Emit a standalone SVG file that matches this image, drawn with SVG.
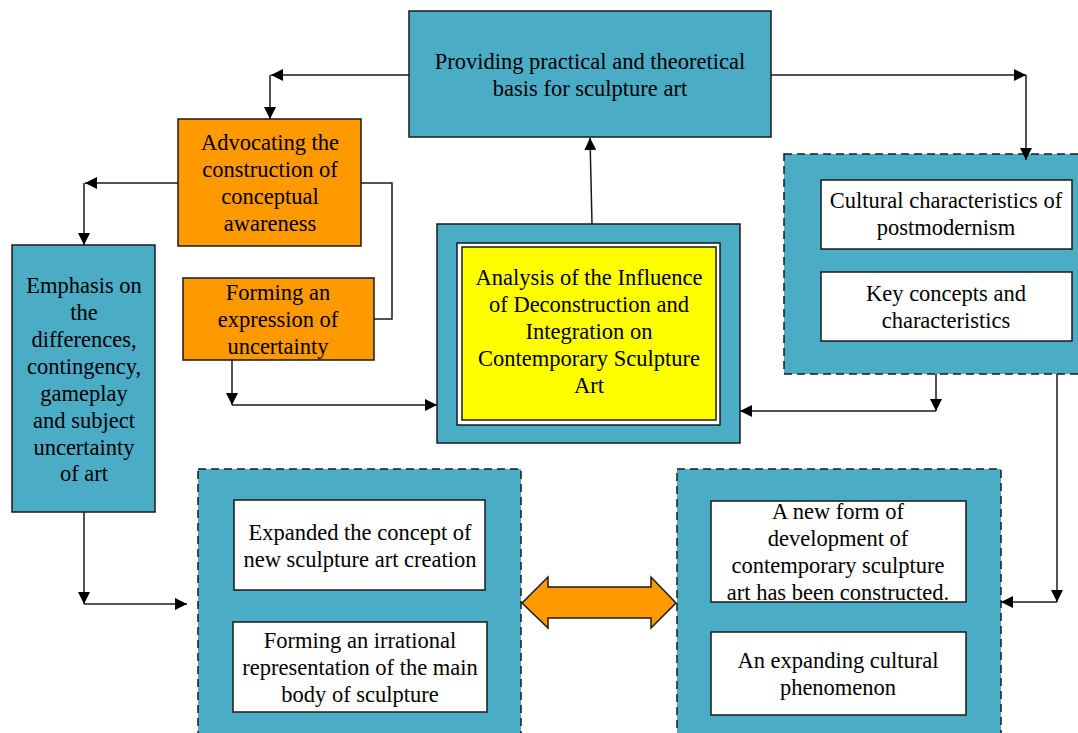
<svg xmlns="http://www.w3.org/2000/svg" width="1078" height="733" viewBox="0 0 1078 733">
<defs>
<style>
text{font-family:"Liberation Serif","Times New Roman",serif;font-size:22.5px;fill:#000;text-anchor:middle}
.teal{fill:#4BACC6;stroke:#1a1a1a;stroke-width:1.5}
.orange{fill:#FF9900;stroke:#1a1a1a;stroke-width:1.5}
.white{fill:#fff;stroke:#1a1a1a;stroke-width:1.5}
.dash{fill:#4BACC6;stroke:#1a1a1a;stroke-width:1.5;stroke-dasharray:8 5}
.conn{fill:none;stroke:#1a1a1a;stroke-width:1.5}
.arr{marker-end:url(#ah)}
</style>
<marker id="ah" viewBox="0 0 12 12" refX="12" refY="6" markerWidth="12" markerHeight="12" markerUnits="userSpaceOnUse" orient="auto">
<path d="M0,0 L12,6 L0,12 Z" fill="#000"/>
</marker>
</defs>

<g id="node-top">
<rect class="teal" x="409" y="11" width="362" height="126"/>
<text x="590" y="69">Providing practical and theoretical</text>
<text x="590" y="96">basis for sculpture art</text>
</g>

<g id="node-advocating">
<rect class="orange" x="178" y="119" width="183" height="127"/>
<text x="270" y="150">Advocating the</text>
<text x="270" y="177">construction of</text>
<text x="270" y="204">conceptual</text>
<text x="270" y="231">awareness</text>
</g>

<g id="node-emphasis">
<rect class="teal" x="12" y="245" width="143" height="267"/>
<text x="84" y="293">Emphasis on</text>
<text x="84" y="320">the</text>
<text x="84" y="347">differences,</text>
<text x="84" y="374">contingency,</text>
<text x="84" y="401">gameplay</text>
<text x="84" y="428">and subject</text>
<text x="84" y="455">uncertainty</text>
<text x="84" y="481">of art</text>
</g>

<g id="node-forming-uncertainty">
<rect class="orange" x="183" y="278" width="191" height="82"/>
<text x="278" y="300">Forming an</text>
<text x="278" y="327">expression of</text>
<text x="278" y="354">uncertainty</text>
</g>

<g id="node-center">
<rect class="teal" x="437" y="224" width="303" height="219"/>
<rect class="white" x="457" y="243" width="263" height="182"/>
<rect fill="#FFFF00" stroke="#1a1a1a" stroke-width="1.5" x="462" y="247" width="254" height="173"/>
<text x="589" y="285">Analysis of the Influence</text>
<text x="589" y="312">of Deconstruction and</text>
<text x="589" y="339">Integration on</text>
<text x="589" y="366">Contemporary Sculpture</text>
<text x="589" y="393">Art</text>
</g>

<g id="node-right-group">
<rect class="dash" x="784" y="154" width="310" height="220"/>
<g id="node-cultural">
<rect class="white" x="821" y="180" width="251" height="69"/>
<text x="946" y="208">Cultural characteristics of</text>
<text x="946" y="235">postmodernism</text>
</g>
<g id="node-key">
<rect class="white" x="821" y="272" width="251" height="69"/>
<text x="946" y="301">Key concepts and</text>
<text x="946" y="328">characteristics</text>
</g>
</g>

<g id="node-bottom-left-group">
<rect class="dash" x="198" y="469" width="323" height="280"/>
<g id="node-expanded">
<rect class="white" x="234" y="500" width="251" height="90"/>
<text x="360" y="540">Expanded the concept of</text>
<text x="360" y="567">new sculpture art creation</text>
</g>
<g id="node-irrational">
<rect class="white" x="233" y="622" width="254" height="90"/>
<text x="360" y="648">Forming an irrational</text>
<text x="360" y="675">representation of the main</text>
<text x="360" y="702">body of sculpture</text>
</g>
</g>

<g id="node-bottom-right-group">
<rect class="dash" x="677" y="469" width="324" height="280"/>
<g id="node-newform">
<rect class="white" x="711" y="501" width="255" height="101"/>
<text x="838" y="519">A new form of</text>
<text x="838" y="546">development of</text>
<text x="838" y="573">contemporary sculpture</text>
<text x="838" y="600">art has been constructed.</text>
</g>
<g id="node-expanding">
<rect class="white" x="711" y="632" width="255" height="83"/>
<text x="838" y="668">An expanding cultural</text>
<text x="838" y="695">phenomenon</text>
</g>
</g>

<g id="connectors">
<path class="conn arr" d="M409,75 H271"/>
<path class="conn arr" d="M270,75 V119"/>
<path class="conn arr" d="M771,75 H1026"/>
<path class="conn arr" d="M1026,75 V160"/>
<path class="conn arr" d="M592,224 L590,138"/>
<path class="conn arr" d="M178,183 H85"/>
<path class="conn arr" d="M84,183 V245"/>
<path class="conn" d="M361,183 H392 V319 H374"/>
<path class="conn arr" d="M232,360 V405"/>
<path class="conn arr" d="M232,405 H437"/>
<path class="conn arr" d="M936,374 V411"/>
<path class="conn arr" d="M936,411 H740"/>
<path class="conn arr" d="M84,512 V604"/>
<path class="conn arr" d="M84,604 H187"/>
<path class="conn arr" d="M1057,374 V602"/>
<path class="conn arr" d="M1057,602 H1001"/>
<polygon fill="#FF9900" stroke="#1a1a1a" stroke-width="1.5" points="522,603 548,577 548,587 651,587 651,577 676,603 651,628 651,618 548,618 548,628"/>
</g>
</svg>
